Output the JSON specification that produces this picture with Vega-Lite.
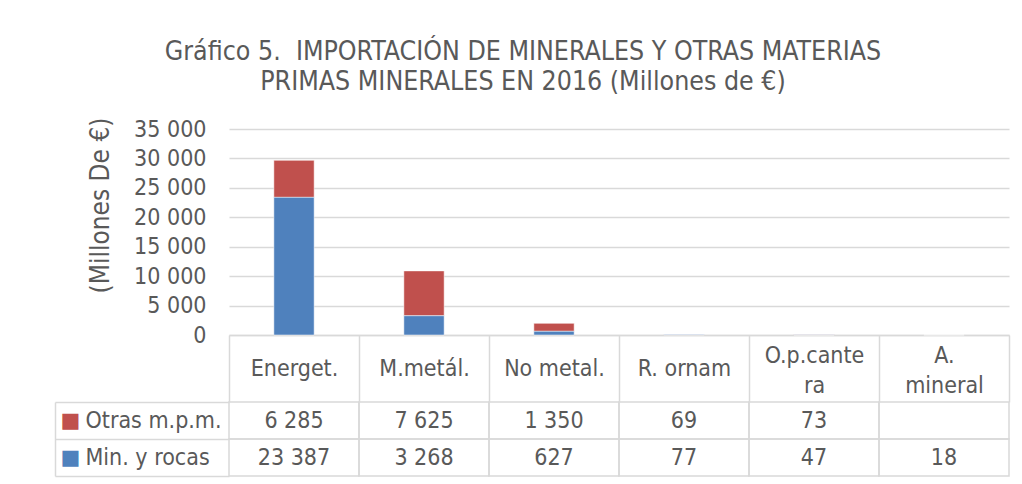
{
  "$schema": "https://vega.github.io/schema/vega-lite/v6.json",
  "background": "white",
  "padding": {"left": 54, "top": 38, "right": 5, "bottom": 5},
  "title": {
    "text": ["Gráfico 5.\u00a0 IMPORTACIÓN DE MINERALES Y OTRAS MATERIAS", "PRIMAS MINERALES EN 2016 (Millones de €)"],
    "font": "DejaVu Sans Condensed",
    "fontSize": 26.5,
    "fontWeight": "normal",
    "color": "#595959",
    "lineHeight": 30,
    "anchor": "middle",
    "dx": -9,
    "offset": 22
  },
  "config": {
    "view": {"stroke": null},
    "locale": {"number": {"decimal": ",", "thousands": " ", "grouping": [3], "currency": ["", " €"]}},
    "text": {"font": "DejaVu Sans Condensed"}
  },
  "data": {
    "values": [
      {"cat": "Energet.", "serie": "Otras m.p.m.", "value": 6285},
      {"cat": "M.metál.", "serie": "Otras m.p.m.", "value": 7625},
      {"cat": "No metal.", "serie": "Otras m.p.m.", "value": 1350},
      {"cat": "R. ornam", "serie": "Otras m.p.m.", "value": 69},
      {"cat": "O.p.cantera", "serie": "Otras m.p.m.", "value": 73},
      {"cat": "A. mineral", "serie": "Otras m.p.m.", "value": null},
      {"cat": "Energet.", "serie": "Min. y rocas", "value": 23387},
      {"cat": "M.metál.", "serie": "Min. y rocas", "value": 3268},
      {"cat": "No metal.", "serie": "Min. y rocas", "value": 627},
      {"cat": "R. ornam", "serie": "Min. y rocas", "value": 77},
      {"cat": "O.p.cantera", "serie": "Min. y rocas", "value": 47},
      {"cat": "A. mineral", "serie": "Min. y rocas", "value": 18}
    ]
  },
  "bounds": "flush",
  "spacing": 67,
  "vconcat": [
    {
      "width": 780,
      "height": 206,
      "transform": [{"filter": "datum.value != null"}],
      "mark": {"type": "bar", "width": {"band": 0.31}, "stroke": "white", "strokeWidth": 1, "strokeOpacity": 0.5},
      "encoding": {
        "x": {
          "field": "cat", "type": "nominal", "sort": null,
          "scale": {"domain": ["Energet.", "M.metál.", "No metal.", "R. ornam", "O.p.cantera", "A. mineral"], "paddingInner": 0, "paddingOuter": 0},
          "axis": {
            "title": null,
            "orient": "bottom",
            "domain": true, "domainColor": "#d9d9d9", "domainWidth": 1.5,
            "ticks": true, "tickBand": "extent", "tickSize": 67, "tickColor": "#d9d9d9", "tickWidth": 1.5,
            "labelExpr": "datum.value == 'O.p.cantera' ? ['O.p.cante','ra'] : datum.value == 'A. mineral' ? ['A.','mineral'] : datum.value",
            "labelAngle": 0,
            "labelPadding": {"condition": {"test": "datum.value == 'O.p.cantera' || datum.value == 'A. mineral'", "value": -47}, "value": -33.5},
            "labelBaseline": "middle", "labelAlign": "center",
            "labelFont": "DejaVu Sans Condensed", "labelFontSize": 23, "labelColor": "#595959", "labelLineHeight": 30,
            "labelOverlap": false, "labelBound": false, "labelFlush": false, "labelLimit": 0
          }
        },
        "y": {
          "field": "value", "type": "quantitative", "stack": "zero",
          "scale": {"domain": [0, 35000], "nice": false},
          "axis": {
            "title": "(Millones De €)",
            "titleFont": "DejaVu Sans Condensed", "titleFontSize": 26, "titleFontWeight": "normal", "titleColor": "#595959",
            "titlePadding": 20, "titleY": 76,
            "values": [0, 5000, 10000, 15000, 20000, 25000, 30000, 35000],
            "format": ",d",
            "domain": false, "ticks": false,
            "grid": true, "gridColor": "#d9d9d9", "gridWidth": 1.5,
            "labelFont": "DejaVu Sans Condensed", "labelFontSize": 23, "labelColor": "#595959", "labelPadding": 23
          }
        },
        "color": {
          "field": "serie", "type": "nominal",
          "scale": {"domain": ["Otras m.p.m.", "Min. y rocas"], "range": ["#c0504d", "#4f81bd"]},
          "legend": null
        },
        "order": {"field": "serie", "sort": "ascending"}
      }
    },
    {
      "width": 780,
      "height": 74,
      "encoding": {
        "x": {
          "field": "cat", "type": "nominal", "sort": null,
          "scale": {"domain": ["Energet.", "M.metál.", "No metal.", "R. ornam", "O.p.cantera", "A. mineral"], "paddingInner": 0, "paddingOuter": 0},
          "axis": null
        },
        "y": {
          "field": "serie", "type": "nominal",
          "scale": {"domain": ["Otras m.p.m.", "Min. y rocas"], "paddingInner": 0, "paddingOuter": 0}
        }
      },
      "layer": [
        {
          "mark": {"type": "rect", "fill": "transparent", "stroke": "#d9d9d9", "strokeWidth": 1.5},
          "encoding": {
            "y": {
              "field": "serie", "type": "nominal",
              "axis": {
                "title": null, "orient": "left", "offset": 174,
                "domain": true, "domainColor": "#d9d9d9", "domainWidth": 1.5,
                "ticks": false,
                "labelExpr": "'■'",
                "labelColor": {"condition": {"test": "datum.value == 'Otras m.p.m.'", "value": "#c0504d"}, "value": "#4f81bd"},
                "labelFont": "DejaVu Sans", "labelFontSize": 21,
                "labelAlign": "left", "labelBaseline": "middle", "labelPadding": -5
              }
            }
          }
        },
        {
          "transform": [{"filter": "datum.value != null"}],
          "mark": {"type": "text", "fontSize": 23, "color": "#595959", "align": "center", "baseline": "middle"},
          "encoding": {
            "text": {"field": "value", "type": "quantitative", "format": ",d"},
            "y": {
              "field": "serie", "type": "nominal",
              "axis": {
                "title": null, "orient": "left",
                "domain": false,
                "ticks": true, "tickBand": "extent", "tickSize": 174, "tickColor": "#d9d9d9", "tickWidth": 1.5,
                "labelFont": "DejaVu Sans Condensed", "labelFontSize": 23, "labelColor": "#595959",
                "labelAlign": "left", "labelBaseline": "middle", "labelPadding": -30, "labelLimit": 0
              }
            }
          }
        }
      ],
      "resolve": {"axis": {"y": "independent"}}
    }
  ]
}
